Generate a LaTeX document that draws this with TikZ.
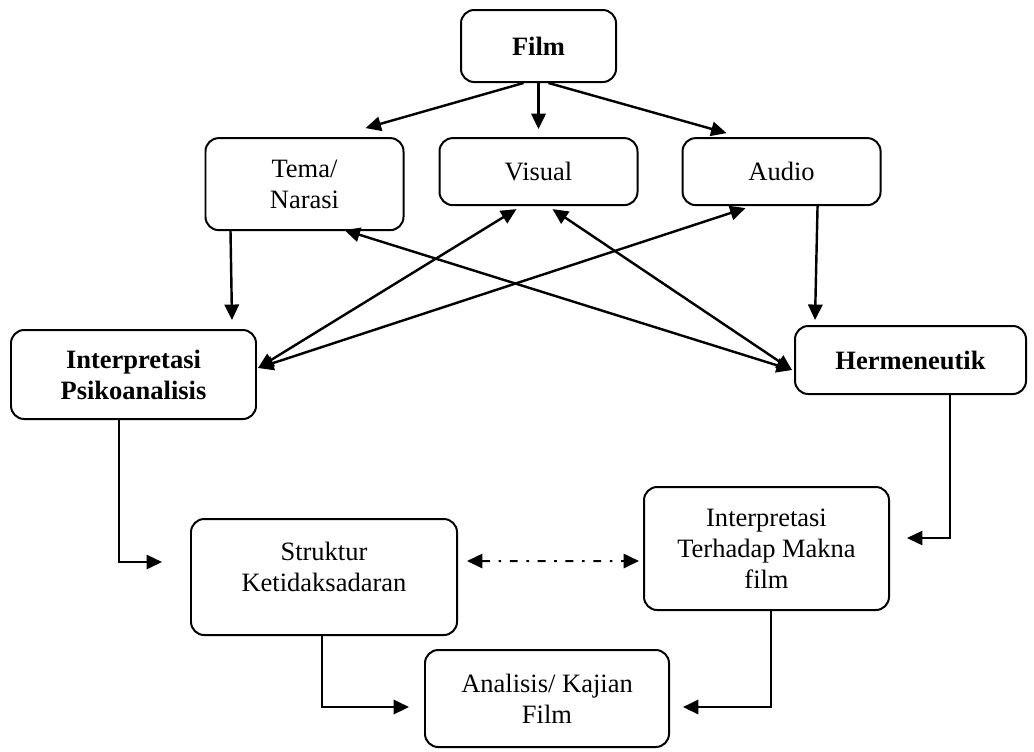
\documentclass[tikz,border=0pt]{standalone}
\usepackage{fontspec}
\setmainfont{Liberation Serif}
\usetikzlibrary{arrows.meta,positioning,calc}
\newcommand{\px}{0.4528pt}

\begin{document}
\begin{tikzpicture}[
    x=\px, y=-\px,
    block/.style={rectangle, rounded corners=6pt, draw, line width=0.9pt, align=center, font=\fontsize{12}{14}\selectfont},
    key/.style={block, font=\fontsize{12}{14}\selectfont\bfseries},
    dims/.style 2 args={minimum width=#1*\px, minimum height=#2*\px},
    arrow/.style={-{Triangle[length=7pt,width=6.5pt]}, line width=1.1pt},
    twoway/.style={{Triangle[length=7pt,width=6.5pt]}-{Triangle[length=7pt,width=6.5pt]}, line width=1.1pt},
    link/.style={arrow, line width=0.8pt},
    dashdot/.style={twoway, line width=0.9pt, dash pattern=on 3.6pt off 3.9pt on 1.2pt off 3.9pt}
]
\useasboundingbox (0,0) rectangle (1034,751);

% Film and its three aspects
\node[key, dims={155}{72}] (film) at (538.5,46) {Film};
\node[block, dims={198}{67}, below=24.5pt of film] (visual) {Visual};
\node[block, dims={198}{92}, left=15.4pt of visual.north west, anchor=north east] (tema) {Tema/\\Narasi};
\node[block, dims={198}{67}, right=19.5pt of visual] (audio) {Audio};

% Two readings
\node[key, dims={245}{89}] (psiko) at (133.5,374.5) {Interpretasi\\Psikoanalisis};
\node[key, dims={231}{68}] (herm) at (910.5,360) {Hermeneutik};

% Results
\node[block, dims={266}{116}] (struktur) at (324,577) {Struktur\\Ketidaksadaran\\[-4.5pt]\mbox{}};
\node[block, dims={245}{123}] (interp) at (766.5,548.5) {Interpretasi\\Terhadap Makna\\film};
\node[block, dims={244}{97}] (analisis) at (547,698.5) {Analisis/ Kajian\\Film};

% Arrows
\draw[arrow] ($(film.south)+(-15,0)$) -- ($(tema.north)+(61,-9)$);
\draw[arrow] (film.south) -- ($(visual.north)+(0,-8)$);
\draw[arrow] ($(film.south)+(10,0)$) -- ($(audio.north)+(-55,-4)$);
\draw[arrow] ($(tema.south)+(-74,0)$) -- ($(psiko.north)+(98.5,-9)$);
\draw[arrow] ($(audio.south)+(36,0)$) -- ($(herm.north)+(-95.5,-5)$);

\draw[twoway] ($(psiko.east)+(1,-6.5)$) -- ($(visual.south)+(-22,3)$);
\draw[twoway] ($(psiko.east)+(1,-6.5)$) -- ($(audio.south)+(-36,2)$);
\draw[twoway] ($(herm.west)+(-2,10)$) -- ($(tema.south)+(40,-1)$);
\draw[twoway] ($(herm.west)+(-2,10)$) -- ($(visual.south)+(14,3)$);

\draw[link] ($(psiko.south)+(-14.5,0)$) |- ($(struktur.west)+(-28,-15)$);
\draw[link] ($(herm.south)+(39.5,0)$) |- ($(interp.east)+(17,-10.5)$);
\draw[dashdot] ($(struktur.east)+(9,-16)$) -- ($(interp.west)+(-4,12.5)$);

\draw[arrow] ($(struktur.south)+(-2,0)$) |- ($(analisis.west)+(-15,8.5)$);
\draw[arrow] ($(interp.south)+(4.5,0)$) |- ($(analisis.east)+(13,8.5)$);

\end{tikzpicture}
\end{document}
